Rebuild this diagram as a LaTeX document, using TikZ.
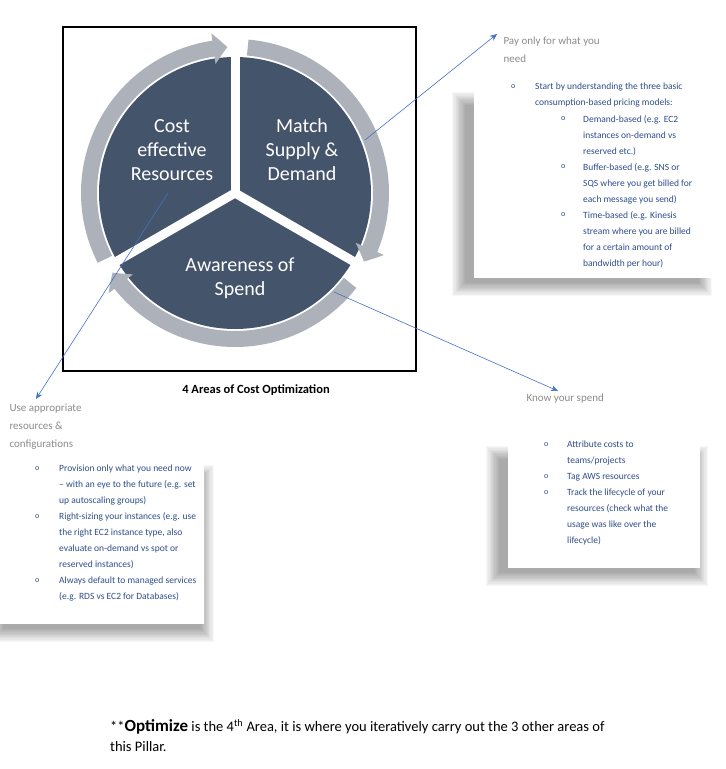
\documentclass[tikz,border=0pt]{standalone}
\usepackage{fontspec}
\setmainfont{Carlito}
\usetikzlibrary{arrows.meta,bending,calc}
\definecolor{disc}{HTML}{44546A}
\definecolor{ring}{HTML}{ADB1B9}
\definecolor{conncol}{HTML}{4472C4}
\definecolor{head}{HTML}{8C8C8C}
\definecolor{body}{HTML}{2F4E8A}
\tikzset{
 ringarrow/.style={draw=ring,line width=16pt,-{Triangle[bend,width=30pt,length=14pt]}},
 sep/.style={white,line width=9pt},
 lbl/.style={white,font=\fontsize{20}{24}\selectfont,align=center},
 link/.style={draw=conncol,line width=0.6pt,-{Stealth[length=7pt,width=6pt]}},
 hd/.style={head,font=\fontsize{11}{18}\selectfont,anchor=west,align=left},
 it/.style={body,font=\fontsize{9.5}{16}\selectfont,anchor=north west,align=left,inner sep=0pt},
 bul/.style={body,font=\fontsize{8}{16}\selectfont,anchor=north west,inner sep=0pt},
}
\newcommand{\shadowbox}[4]{%
 \foreach \k in {0,...,11}{\fill[black,opacity=0.03] (#1+\k*1.2,#2+\k*1.2) rectangle (#3-\k*1.2,#4-\k*1.2);}
}
\begin{document}
\begin{tikzpicture}[x=1pt,y=-1pt]
\useasboundingbox (0,0) rectangle (726,769);
\fill[white] (0,0) rectangle (726,769);
% frame
\draw[line width=1.4pt] (63,27) rectangle (416,371);
% disc
\coordinate (c) at (235,193);
\fill[disc] (c) circle (136);
\draw[ringarrow] ($(c)+(-207:146)$) arc (-207:-93:146);
\draw[ringarrow] ($(c)+(-85:146)$) arc (-85:28:146);
\draw[ringarrow] ($(c)+(38:146)$) arc (38:147:146);
\draw[sep] (c) -- ++(-90:150);
\draw[sep] (c) -- ++(30:150);
\draw[sep] (c) -- ++(150:150);
\node[lbl] (cer) at (172,150) {Cost\\effective\\Resources};
\node[lbl] (msd) at (302,150) {Match\\Supply \&\\Demand};
\node[lbl] (aos) at (240,278) {Awareness of\\Spend};
\node[font=\bfseries\fontsize{12.5}{15}\selectfont] (cap) at (256,390) {4 Areas of Cost Optimization};
% shadow boxes
\shadowbox{452}{92}{712}{296}
\fill[white] (474,86) rectangle (726,278);
\shadowbox{-10}{465}{214}{642}
\fill[white] (0,458) rectangle (204,624);
\shadowbox{486}{446}{708}{586}
\fill[white] (508,432) rectangle (700,568);
% headings
\node[hd] (pay) at (500,50) {Pay only for what you\\need};
\node[hd] (use) at (6,427) {Use appropriate\\resources \&\\configurations};
\node[hd] (know) at (523,399) {Know your spend};
% connectors
\coordinate (s1) at (365,140);
\coordinate (s2) at (168,193);
\coordinate (s3) at (334,292);
\coordinate (e1) at (497,34);
\coordinate (e2) at (36,399);
\coordinate (e3) at (558,391);
\draw[link] (s1) -- (e1);
\draw[link] (s2) -- (e2);
\draw[link] (s3) -- (e3);
% right-top list
\node[bul] at (511,84) {o};
\node[it] at (535,83) {Start by understanding the three basic\\consumption-based pricing models:};
\node[bul] at (561,116) {o};\node[bul] at (561,164) {o};\node[bul] at (561,212) {o};
\node[it] at (583,115) {Demand-based (e.g. EC2\\instances on-demand vs\\reserved etc.)\\Buffer-based (e.g. SNS or\\SQS where you get billed for\\each message you send)\\Time-based (e.g. Kinesis\\stream where you are billed\\for a certain amount of\\bandwidth per hour)};
% left list
\node[bul] at (35,466) {o};\node[bul] at (35,514) {o};\node[bul] at (35,578) {o};
\node[it] at (59,465) {Provision only what you need now\\-- with an eye to the future (e.g. set\\up autoscaling groups)\\Right-sizing your instances (e.g. use\\the right EC2 instance type, also\\evaluate on-demand vs spot or\\reserved instances)\\Always default to managed services\\(e.g. RDS vs EC2 for Databases)};
% right-bottom list
\node[bul] at (544,442) {o};\node[bul] at (544,474) {o};\node[bul] at (544,490) {o};
\node[it] at (567,441) {Attribute costs to\\teams/projects\\Tag AWS resources\\Track the lifecycle of your\\resources (check what the\\usage was like over the\\lifecycle)};
% bottom note
\node[anchor=north west,inner sep=0pt,align=left,font=\fontsize{14.5}{20}\selectfont] (note) at (110,719) {**\textbf{\fontsize{17}{20}\selectfont Optimize} is the 4\textsuperscript{th} Area, it is where you iteratively carry out the 3 other areas of\\this Pillar.};
\end{tikzpicture}
\end{document}
